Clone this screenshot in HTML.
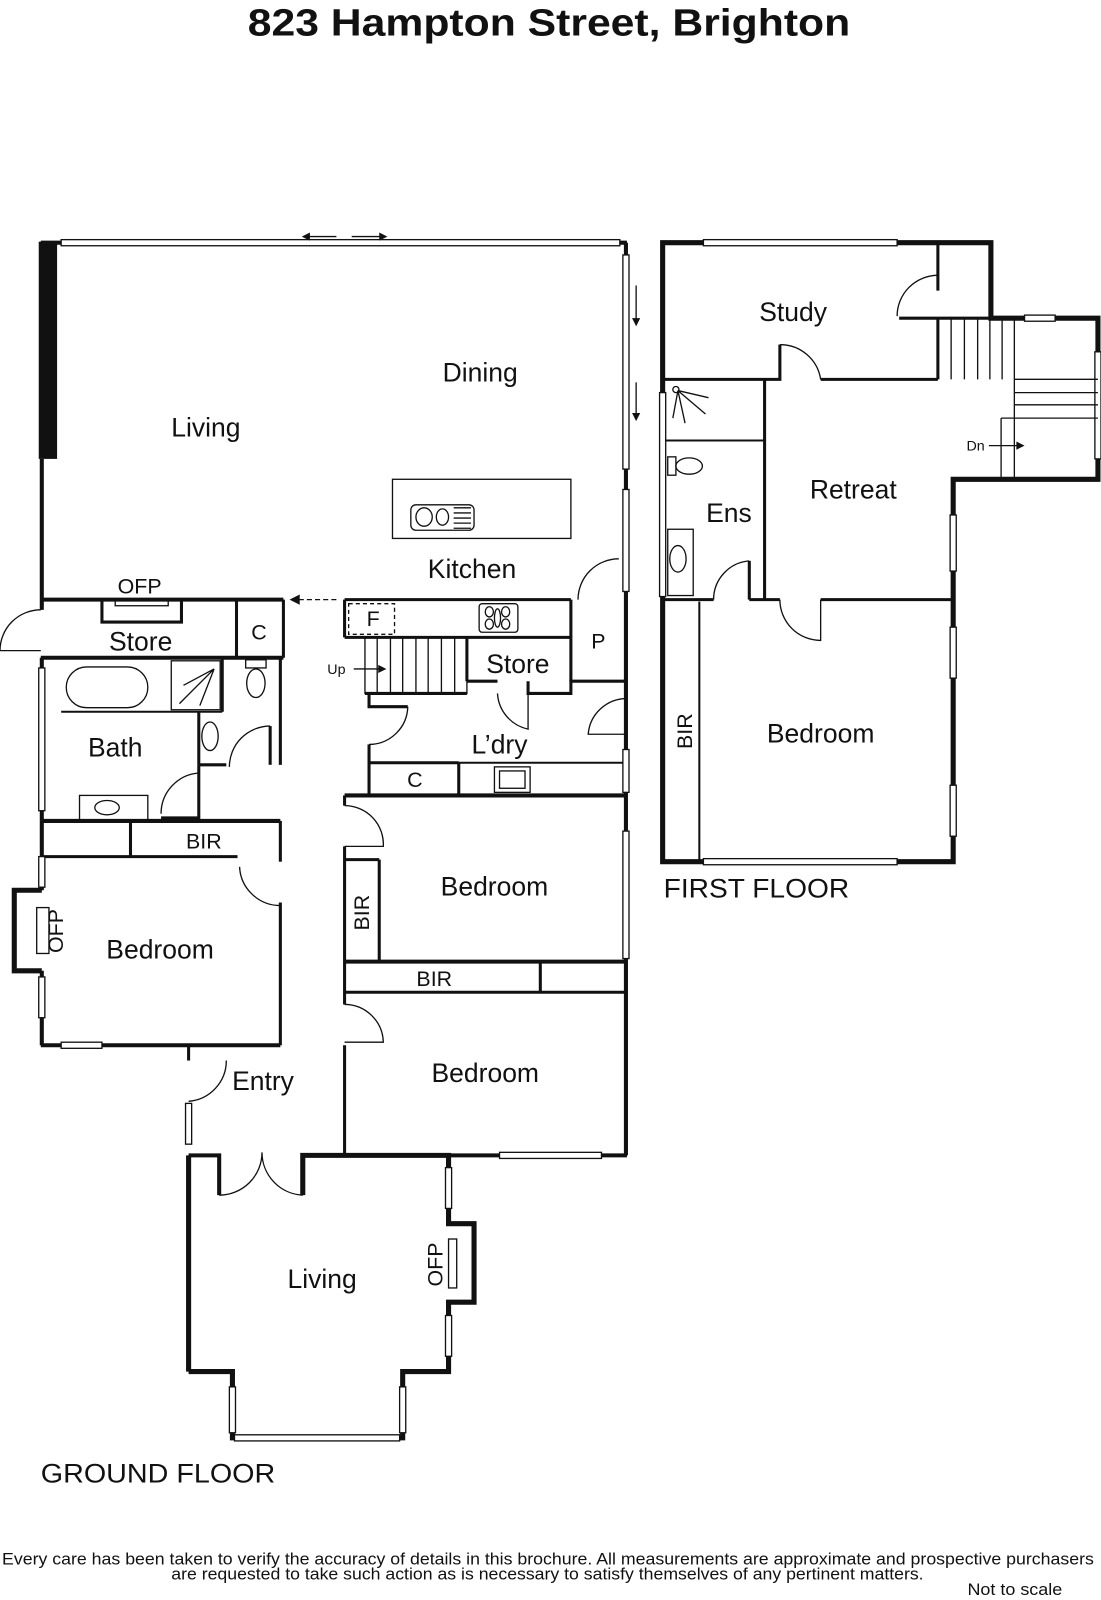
<!DOCTYPE html>
<html><head><meta charset="utf-8"><style>
html,body{margin:0;padding:0;background:#fff;}
svg{display:block;}
text{font-family:"Liberation Sans",sans-serif;fill:#111;}
</style></head><body>
<svg width="1101" height="1600" viewBox="0 0 1080 1569" preserveAspectRatio="none" xmlns="http://www.w3.org/2000/svg">
<text x="243" y="35" textLength="591" lengthAdjust="spacingAndGlyphs" font-size="37" font-weight="bold">823 Hampton Street, Brighton</text>

<g fill="none" stroke="#111" stroke-width="4">
<rect x="38" y="237" width="18" height="213" fill="#111" stroke="none"/>
<line x1="41" y1="450" x2="41" y2="598"/>
<line x1="40" y1="238" x2="615" y2="238"/>
<line x1="614" y1="238" x2="614" y2="1133"/>
<line x1="40" y1="588" x2="278" y2="588"/>
<line x1="338" y1="588" x2="560" y2="588" stroke-width="3"/>
<line x1="41" y1="645" x2="41" y2="805"/>
<line x1="40" y1="645" x2="278" y2="645"/>
<line x1="232" y1="588" x2="232" y2="645" stroke-width="3"/>
<line x1="278" y1="588" x2="278" y2="645" stroke-width="3"/>
<path d="M100 588 V610 H178 V588" stroke-width="3"/>
<line x1="275" y1="645" x2="275" y2="750" stroke-width="3"/>
<line x1="60" y1="698" x2="218" y2="698" stroke-width="2"/>
<line x1="218" y1="645" x2="218" y2="698" stroke-width="3"/>
<line x1="195" y1="698" x2="195" y2="750" stroke-width="3"/>
<line x1="195" y1="750" x2="222" y2="750" stroke-width="3"/>
<line x1="265" y1="712" x2="265" y2="750" stroke-width="3"/>
<line x1="195" y1="750" x2="195" y2="805" stroke-width="3"/>
<line x1="158" y1="802" x2="195" y2="802" stroke-width="3"/>
<line x1="40" y1="805" x2="275" y2="805"/>
<line x1="40" y1="840" x2="233" y2="840" stroke-width="3"/>
<line x1="128" y1="805" x2="128" y2="840" stroke-width="3"/>
<line x1="275" y1="805" x2="275" y2="845" stroke-width="3"/>
<line x1="41" y1="805" x2="41" y2="873"/>
<path d="M41 873 H14 V952 H41" stroke-width="5"/>
<line x1="41" y1="952" x2="41" y2="1025"/>
<line x1="275" y1="885" x2="275" y2="1025" stroke-width="3"/>
<line x1="40" y1="1025" x2="275" y2="1025"/>
<line x1="185" y1="1025" x2="185" y2="1040" stroke-width="3"/>
<line x1="338" y1="588" x2="338" y2="625" stroke-width="3"/>
<line x1="338" y1="625" x2="560" y2="625" stroke-width="3"/>
<line x1="458" y1="625" x2="458" y2="668" stroke-width="3"/>
<path d="M458 668 H488" stroke-width="3"/>
<path d="M518 668 V680 H560 V668 H615" stroke-width="3"/>
<line x1="560" y1="588" x2="560" y2="668" stroke-width="3"/>
<path d="M358 680 H458" stroke-width="3"/>
<path d="M362 680 V693 H400" stroke-width="3"/>
<line x1="362" y1="730" x2="362" y2="780" stroke-width="3"/>
<line x1="362" y1="748" x2="450" y2="748" stroke-width="3"/>
<line x1="450" y1="748" x2="450" y2="780" stroke-width="3"/>
<line x1="450" y1="748" x2="614" y2="748" stroke-width="2"/>
<line x1="338" y1="780" x2="615" y2="780"/>
<line x1="338" y1="780" x2="338" y2="790" stroke-width="3"/>
<line x1="338" y1="830" x2="338" y2="985" stroke-width="3"/>
<line x1="338" y1="843" x2="372" y2="843" stroke-width="3"/>
<line x1="372" y1="843" x2="372" y2="943" stroke-width="3"/>
<line x1="338" y1="943" x2="615" y2="943"/>
<line x1="338" y1="973" x2="615" y2="973" stroke-width="3"/>
<line x1="530" y1="943" x2="530" y2="973" stroke-width="3"/>
<line x1="338" y1="1025" x2="338" y2="1133" stroke-width="3"/>
<line x1="338" y1="1133" x2="615" y2="1133"/>
<path d="M185 1133 H215 V1172"/>
<path d="M297 1172 V1133 H440 V1200 H465 V1277 H440 V1345 H395 V1410 H228 V1345 H185" stroke-width="5"/>
<line x1="185" y1="1133" x2="185" y2="1345" stroke-width="5"/>
<path d="M650 238 H972 V312 H1077 V470 H935 V845 H650 Z" stroke-width="5"/>
<path d="M920 238 V285" stroke-width="3"/>
<path d="M882 312 H972" stroke-width="3"/>
<line x1="920" y1="312" x2="920" y2="372" stroke-width="3"/>
<path d="M650 372 H765 V338" stroke-width="3"/>
<line x1="805" y1="372" x2="920" y2="372" stroke-width="3"/>
<line x1="750" y1="372" x2="750" y2="588" stroke-width="3"/>
<line x1="650" y1="432" x2="750" y2="432" stroke-width="2"/>
<path d="M650 588 H700 M735 588 V550" stroke-width="3"/>
<path d="M735 588 H765" stroke-width="3"/>
<line x1="805" y1="588" x2="935" y2="588" stroke-width="3"/>
<line x1="686" y1="590" x2="686" y2="845" stroke-width="2"/>
</g>

<g fill="#fff" stroke="#111" stroke-width="1.3">
<rect x="60" y="235" width="548" height="6"/>
<rect x="611" y="250" width="6" height="210"/>
<rect x="611" y="480" width="6" height="100"/>
<rect x="38" y="655" width="6" height="140"/>
<rect x="38" y="840" width="6" height="30"/>
<rect x="38" y="958" width="6" height="40"/>
<rect x="60" y="1022" width="40" height="6"/>
<rect x="182" y="1082" width="6" height="40"/>
<rect x="611" y="735" width="6" height="42"/>
<rect x="611" y="815" width="6" height="125"/>
<rect x="490" y="1130" width="100" height="6"/>
<rect x="437" y="1145" width="6" height="40"/>
<rect x="437" y="1290" width="6" height="40"/>
<rect x="225" y="1360" width="6" height="45"/>
<rect x="392" y="1360" width="6" height="45"/>
<rect x="230" y="1407" width="162" height="6"/>
<rect x="690" y="235" width="190" height="6"/>
<rect x="1005" y="309" width="30" height="6"/>
<rect x="1074" y="345" width="6" height="105"/>
<rect x="647" y="385" width="6" height="200"/>
<rect x="932" y="505" width="6" height="55"/>
<rect x="932" y="615" width="6" height="50"/>
<rect x="932" y="770" width="6" height="50"/>
<rect x="690" y="842" width="190" height="6"/>
<rect x="385" y="470" width="175" height="58" fill="none"/>
<rect x="403" y="495" width="62" height="25" rx="5" fill="none"/>
<ellipse cx="416" cy="507" rx="8" ry="9" fill="none"/>
<ellipse cx="434" cy="507" rx="6" ry="8" fill="none"/>
<path d="M445 498 H462 M445 503 H462 M445 508 H462 M445 513 H462 M445 518 H462" fill="none"/>
<rect x="470" y="592" width="38" height="28" rx="3" fill="none"/>
<ellipse cx="480" cy="600" rx="4" ry="5" fill="none"/><ellipse cx="496" cy="600" rx="4" ry="5" fill="none"/>
<ellipse cx="480" cy="612" rx="4" ry="5" fill="none"/><ellipse cx="496" cy="612" rx="4" ry="5" fill="none"/>
<ellipse cx="488" cy="606" rx="3" ry="9" fill="none"/>
<rect x="342" y="592" width="45" height="30" fill="none" stroke-dasharray="4 3"/>
<rect x="113" y="588" width="52" height="6" fill="none"/>
<rect x="65" y="654" width="80" height="40" rx="20" fill="none"/>
<rect x="168" y="648" width="48" height="48" fill="none"/>
<path d="M210 656 L180 672 M210 656 L176 690 M210 656 L196 692" fill="none"/>
<rect x="241" y="647" width="20" height="8" fill="none"/>
<ellipse cx="251" cy="670" rx="9" ry="14" fill="none"/>
<ellipse cx="206" cy="722" rx="8" ry="14" fill="none"/>
<rect x="78" y="780" width="67" height="25" fill="none"/>
<ellipse cx="105" cy="792" rx="12" ry="7" fill="none"/>
<rect x="485" y="752" width="35" height="25" fill="none"/>
<rect x="490" y="756" width="25" height="17" fill="none"/>
<rect x="36" y="890" width="12" height="45" fill="none"/>
<rect x="440" y="1215" width="8" height="48" fill="none"/>
<rect x="358" y="625" width="100" height="55" fill="none"/>
<path d="M370 625 V680 M383 625 V680 M395 625 V680 M408 625 V680 M420 625 V680 M433 625 V680 M446 625 V680" fill="none"/>
<path d="M920 312 H995 V372 M933 312 V372 M946 312 V372 M959 312 V372 M971 312 V372 M983 312 V372 M995 372 H1077 M995 385 H1077 M995 397 H1077 M995 410 H1077 M995 372 V470 M982 410 V470 M982 410 H995" fill="none"/>
<path d="M665 383 L695 390 M665 383 L692 406 M665 383 L672 415 M665 383 L660 410" fill="none"/>
<circle cx="663" cy="382" r="3" fill="none"/>
<rect x="655" y="448" width="8" height="18" fill="none"/>
<ellipse cx="676" cy="457" rx="13" ry="8" fill="none"/>
<rect x="655" y="519" width="25" height="65" fill="none"/>
<ellipse cx="665" cy="548" rx="8" ry="13" fill="none"/>
<path d="M40 598 A40 40 0 0 0 0 638 H40" fill="none"/>
<path d="M607 548 A40 40 0 0 0 567 588" fill="none"/>
<path d="M265 712 A40 40 0 0 0 225 752" fill="none"/>
<path d="M195 758 A40 40 0 0 0 158 798" fill="none"/>
<path d="M235 850 A40 40 0 0 0 275 888" fill="none"/>
<path d="M222 1040 A40 40 0 0 1 185 1080" fill="none"/>
<path d="M400 693 A38 38 0 0 1 362 730" fill="none"/>
<path d="M488 680 A38 38 0 0 0 518 715 V680" fill="none"/>
<path d="M615 685 A38 38 0 0 0 577 720 H615" fill="none"/>
<path d="M338 790 A38 38 0 0 1 376 830 H338" fill="none"/>
<path d="M338 985 A38 38 0 0 1 376 1022 H338" fill="none"/>
<path d="M215 1172 A42 42 0 0 0 257 1130 A42 42 0 0 0 297 1172" fill="none"/>
<path d="M920 270 A40 40 0 0 0 880 310" fill="none"/>
<path d="M765 338 A40 40 0 0 1 805 372" fill="none"/>
<path d="M735 550 A38 38 0 0 0 700 588" fill="none"/>
<path d="M765 588 A40 40 0 0 0 805 628 V588" fill="none"/>
<path d="M330 588 H290" fill="none" stroke-dasharray="5 3"/>
<path d="M298 232 H330 M345 232 H378" fill="none"/>
<path d="M347 656 H375" fill="none"/>
<path d="M970 437 H1000" fill="none"/>
<path d="M624 280 V315 M624 375 V408" fill="none"/>
</g>
<g fill="#111">
<path d="M284 588 L294 583 L294 593 Z"/>
<path d="M296 232 L304 228 L304 236 Z"/>
<path d="M380 232 L372 228 L372 236 Z"/>
<path d="M379 656 L371 652 L371 660 Z"/>
<path d="M1005 437 L997 433 L997 441 Z"/>
<path d="M624 320 L620 312 L628 312 Z"/>
<path d="M624 413 L620 405 L628 405 Z"/>
</g>

<g font-size="26">
<text x="202" y="428" text-anchor="middle">Living</text>
<text x="471" y="374" text-anchor="middle">Dining</text>
<text x="463" y="567" text-anchor="middle">Kitchen</text>
<text x="137" y="582" text-anchor="middle" font-size="21">OFP</text>
<text x="138" y="638" text-anchor="middle">Store</text>
<text x="254" y="627" text-anchor="middle" font-size="21">C</text>
<text x="366" y="614" text-anchor="middle" font-size="21">F</text>
<text x="508" y="660" text-anchor="middle">Store</text>
<text x="587" y="636" text-anchor="middle" font-size="21">P</text>
<text x="330" y="661" text-anchor="middle" font-size="14">Up</text>
<text x="113" y="742" text-anchor="middle">Bath</text>
<text x="490" y="739" text-anchor="middle">L’dry</text>
<text x="407" y="772" text-anchor="middle" font-size="21">C</text>
<text x="200" y="832" text-anchor="middle" font-size="21">BIR</text>
<text x="485" y="878" text-anchor="middle">Bedroom</text>
<text x="157" y="940" text-anchor="middle">Bedroom</text>
<text x="426" y="967" text-anchor="middle" font-size="21">BIR</text>
<text x="476" y="1061" text-anchor="middle">Bedroom</text>
<text x="258" y="1069" text-anchor="middle">Entry</text>
<text x="316" y="1263" text-anchor="middle">Living</text>
<text x="40" y="1454" textLength="230" lengthAdjust="spacingAndGlyphs">GROUND FLOOR</text>
<text x="778" y="315" text-anchor="middle">Study</text>
<text x="837" y="489" text-anchor="middle">Retreat</text>
<text x="715" y="512" text-anchor="middle">Ens</text>
<text x="805" y="728" text-anchor="middle">Bedroom</text>
<text x="651" y="880" textLength="182" lengthAdjust="spacingAndGlyphs">FIRST FLOOR</text>
<text x="957" y="442" text-anchor="middle" font-size="14">Dn</text>
<text transform="translate(362,895) rotate(-90)" text-anchor="middle" font-size="21">BIR</text>
<text transform="translate(62,913) rotate(-90)" text-anchor="middle" font-size="21">OFP</text>
<text transform="translate(434,1240) rotate(-90)" text-anchor="middle" font-size="21">OFP</text>
<text transform="translate(679,717) rotate(-90)" text-anchor="middle" font-size="21">BIR</text>
</g>
<text x="2" y="1534" textLength="1071" lengthAdjust="spacingAndGlyphs" font-size="16">Every care has been taken to verify the accuracy of details in this brochure.  All measurements are approximate and prospective purchasers</text>
<text x="168" y="1549" textLength="738" lengthAdjust="spacingAndGlyphs" font-size="16">are requested to take such action as is necessary to satisfy themselves of any pertinent matters.</text>
<text x="949" y="1564" textLength="93" lengthAdjust="spacingAndGlyphs" font-size="16">Not to scale</text>
</svg>
</body></html>
